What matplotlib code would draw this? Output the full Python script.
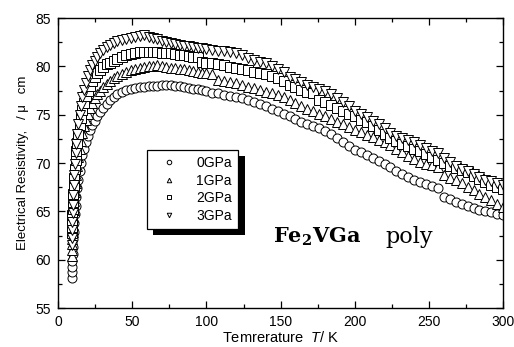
import matplotlib
matplotlib.use("Agg")
import matplotlib.pyplot as plt
import matplotlib.patheffects as pe
from matplotlib.ticker import MultipleLocator

plt.rcParams["font.family"] = ["Liberation Sans", "DejaVu Sans"]
plt.rcParams["mathtext.fontset"] = "custom"
plt.rcParams["mathtext.it"] = "Liberation Sans:italic"
plt.rcParams["mathtext.rm"] = "Liberation Sans"
plt.rcParams["mathtext.bf"] = "DejaVu Serif:bold"

# temperature grid (K), shared by all pressures
temps = [
    9.3, 9.4, 9.5, 9.6, 9.8, 10.0, 10.3, 10.6, 11.0, 11.4,
    11.9, 12.4, 13.0, 13.7, 14.5, 15.4, 16.4, 17.5, 18.7, 20.0,
    21.5, 23.0, 24.7, 26.5, 28.5, 30.5, 32.7, 35.0, 37.5, 40.0,
    43, 46, 49, 52, 55, 58, 61, 64, 67, 70,
    73, 76, 79, 82, 85, 88, 91, 94, 97, 100,
    104, 108, 112, 116, 120, 124, 128, 132, 136, 140,
    144, 148, 152, 156, 160, 164, 168, 172, 176, 180,
    184, 188, 192, 196, 200, 204, 208, 212, 216, 220,
    224, 228, 232, 236, 240, 244, 248, 252, 256, 260,
    264, 268, 272, 276, 280, 284, 288, 292, 296, 300,
]

rho_0gpa = [
    58.1, 58.7, 59.3, 59.9, 60.6, 61.3, 62.1, 62.9, 63.8, 64.7,
    65.6, 66.5, 67.4, 68.3, 69.2, 70.0, 70.8, 71.5, 72.2, 72.8,
    73.4, 73.9, 74.4, 74.9, 75.3, 75.7, 76.1, 76.5, 76.8, 77.1,
    77.4, 77.6, 77.7, 77.8, 77.9, 77.9, 78.0, 78.0, 78.0, 78.1,
    78.1, 78.1, 78.0, 78.0, 77.9, 77.8, 77.7, 77.7, 77.6, 77.5,
    77.3, 77.2, 77.0, 76.9, 76.8, 76.7, 76.5, 76.3, 76.1, 75.9,
    75.6, 75.4, 75.1, 74.9, 74.6, 74.3, 74.0, 73.8, 73.6, 73.3,
    73.0, 72.6, 72.2, 71.8, 71.4, 71.1, 70.8, 70.5, 70.2, 69.9,
    69.6, 69.2, 68.9, 68.6, 68.3, 68.0, 67.8, 67.6, 67.4, 66.5,
    66.3, 66.0, 65.8, 65.6, 65.4, 65.2, 65.0, 64.9, 64.7, 64.6,
]

rho_1gpa = [
    60.4, 61.0, 61.6, 62.2, 62.9, 63.6, 64.4, 65.2, 66.1, 67.0,
    67.9, 68.8, 69.7, 70.6, 71.5, 72.3, 73.1, 73.8, 74.5, 75.1,
    75.7, 76.2, 76.7, 77.1, 77.5, 77.9, 78.2, 78.5, 78.8, 79.0,
    79.2, 79.4, 79.6, 79.7, 79.8, 79.9, 80.0, 80.0, 80.1, 80.0,
    79.9, 79.8, 79.8, 79.7, 79.7, 79.6, 79.5, 79.4, 79.3, 79.3,
    79.2, 78.6, 78.5, 78.4, 78.3, 78.1, 77.9, 77.8, 77.6, 77.4,
    77.2, 77.0, 76.8, 76.5, 76.2, 75.9, 75.6, 75.4, 75.1, 74.9,
    74.6, 74.3, 74.0, 73.7, 73.4, 73.2, 72.9, 72.7, 72.4, 72.2,
    71.9, 71.5, 71.1, 70.7, 70.4, 70.1, 69.9, 69.8, 69.6, 68.8,
    68.5, 68.2, 67.9, 67.5, 67.2, 66.8, 66.5, 66.2, 65.8, 65.5,
]

rho_2gpa = [
    62.8, 63.4, 64.0, 64.6, 65.3, 66.0, 66.8, 67.6, 68.5, 69.4,
    70.3, 71.2, 72.1, 73.0, 73.9, 74.7, 75.5, 76.2, 76.9, 77.5,
    78.0, 78.5, 78.9, 79.3, 79.6, 79.9, 80.2, 80.4, 80.6, 80.8,
    81.0, 81.2, 81.3, 81.4, 81.5, 81.5, 81.5, 81.5, 81.5, 81.4,
    81.4, 81.4, 81.3, 81.2, 81.2, 81.1, 81.0, 81.0, 80.5, 80.4,
    80.3, 80.2, 80.1, 79.9, 79.8, 79.7, 79.6, 79.4, 79.3, 79.2,
    79.0, 78.8, 78.5, 78.1, 77.9, 77.6, 77.4, 77.2, 76.5, 76.3,
    76.0, 75.7, 75.4, 75.1, 74.9, 74.5, 74.2, 73.8, 73.4, 73.0,
    72.6, 72.3, 72.0, 71.8, 71.5, 71.2, 70.9, 70.6, 70.3, 70.0,
    69.7, 69.5, 69.3, 69.1, 68.7, 68.4, 68.0, 67.7, 67.5, 67.3,
]

rho_3gpa = [
    61.5, 62.3, 63.1, 63.9, 64.8, 65.7, 66.7, 67.7, 68.8, 69.9,
    71.0, 72.0, 73.0, 74.0, 75.0, 75.9, 76.8, 77.6, 78.3, 79.0,
    79.6, 80.1, 80.6, 81.0, 81.4, 81.7, 82.0, 82.2, 82.4, 82.6,
    82.7, 82.8, 82.9, 83.0, 83.1, 83.2, 83.0, 82.9, 82.8, 82.6,
    82.5, 82.4, 82.3, 82.2, 82.1, 82.1, 82.0, 81.9, 81.9, 81.8,
    81.7, 81.6, 81.6, 81.5, 81.4, 81.2, 80.9, 80.7, 80.5, 80.3,
    80.0, 79.7, 79.4, 78.9, 78.7, 78.4, 78.1, 77.9, 77.7, 77.5,
    77.1, 76.7, 76.3, 75.9, 75.4, 75.1, 74.8, 74.4, 74.0, 73.6,
    73.1, 72.8, 72.6, 72.4, 72.2, 71.9, 71.6, 71.3, 71.0, 70.5,
    70.1, 69.7, 69.4, 69.2, 68.9, 68.6, 68.3, 68.1, 67.9, 67.7,
]

labels = ["0GPa", "1GPa", "2GPa", "3GPa"]
markers = ["o", "^", "s", "v"]


def main():
    fig = plt.figure(figsize=(5.14, 3.47), dpi=100)
    ax = fig.add_axes([0.113, 0.112, 0.866, 0.836])

    series = [rho_0gpa, rho_1gpa, rho_2gpa, rho_3gpa]
    for rho, lab, m in zip(series, labels, markers):
        ax.plot(temps, rho, linestyle="none", marker=m, markersize=6.5,
                markerfacecolor="white", markeredgecolor="black",
                markeredgewidth=0.7, label=lab)

    ax.set_xlim(0, 300)
    ax.set_ylim(55, 85)
    ax.xaxis.set_major_locator(MultipleLocator(50))
    ax.xaxis.set_minor_locator(MultipleLocator(25))
    ax.yaxis.set_major_locator(MultipleLocator(5))
    ax.yaxis.set_minor_locator(MultipleLocator(2.5))
    ax.tick_params(which="both", direction="in", top=True, right=True,
                   labelsize=10, width=0.9)
    ax.tick_params(which="major", length=5, pad=5)
    ax.tick_params(which="minor", length=3)
    for s in ax.spines.values():
        s.set_linewidth(1.0)

    ax.set_xlabel(r"Temrerature  $T$/ K ", fontsize=10.5, labelpad=1)
    ax.set_ylabel("Electrical Resistivity,   / \u03bc   cm", fontsize=9.5,
                  labelpad=5)

    leg = ax.legend(loc="upper left", bbox_to_anchor=(0.2, 0.545),
                    fontsize=10, frameon=True, fancybox=False,
                    framealpha=1.0, facecolor="white",
                    edgecolor="black", markerscale=0.5, handletextpad=0.9,
                    borderpad=0.45, labelspacing=0.25, handlelength=2.2,
                    borderaxespad=0)
    frame = leg.get_frame()
    frame.set_linewidth(0.9)
    frame.set_path_effects([
        pe.SimplePatchShadow(offset=(4.5, -4.5), shadow_rgbFace="black",
                             alpha=1.0),
        pe.Normal(),
    ])

    ax.text(0.483, 0.245, r"$\mathbf{Fe_2VGa}$", transform=ax.transAxes,
            fontsize=15, va="center", ha="left")
    ax.text(0.735, 0.245, "poly", transform=ax.transAxes, fontsize=16,
            family="DejaVu Serif", va="center", ha="left")

    fig.savefig("out.png", dpi=100)
    plt.close(fig)


if __name__ == "__main__":
    main()
